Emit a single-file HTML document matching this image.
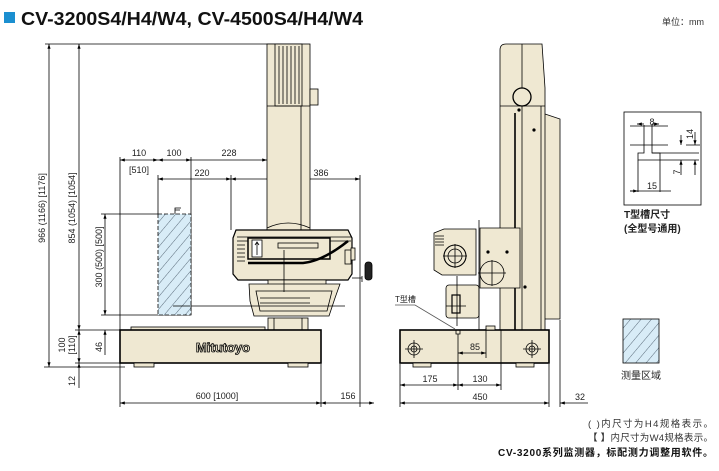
<!DOCTYPE html>
<html><head><meta charset="utf-8"><style>
html,body{margin:0;padding:0;background:#fff;}
svg{display:block;}
text{font-family:"Liberation Sans","Noto Sans CJK SC",sans-serif;}
</style></head><body>
<svg width="719" height="471" viewBox="0 0 719 471" xmlns="http://www.w3.org/2000/svg">
<defs>
<pattern id="h" patternUnits="userSpaceOnUse" width="8" height="8" patternTransform="rotate(40)">
<rect width="8" height="8" fill="#d8ecf7"/><line x1="0" y1="0" x2="0" y2="8" stroke="#3a4a5a" stroke-width="0.8"/>
</pattern>
<marker id="a" markerWidth="6" markerHeight="4" refX="6" refY="2" orient="auto-start-reverse"><path d="M0,0L6,2L0,4z" fill="#000"/></marker>
</defs>
<rect x="4" y="12" width="11" height="11" fill="#1b8fd0"/>
<text x="21" y="25" font-size="18" font-weight="bold" fill="#111" textLength="342" lengthAdjust="spacingAndGlyphs">CV-3200S4/H4/W4, CV-4500S4/H4/W4</text>
<text x="662" y="25" font-size="9" fill="#333">单位：mm</text>

<g stroke="#000" fill="none" stroke-width="0.8">
<line x1="45" y1="44" x2="275" y2="44"/>
<line x1="49" y1="44" x2="49" y2="367" marker-start="url(#a)" marker-end="url(#a)"/>
<line x1="79" y1="44" x2="79" y2="330" marker-start="url(#a)" marker-end="url(#a)"/>
<line x1="79" y1="330" x2="79" y2="363" marker-start="url(#a)" marker-end="url(#a)"/>
<line x1="79" y1="363" x2="79" y2="388" marker-start="url(#a)"/>
<line x1="44" y1="367" x2="125" y2="367"/>
<line x1="75" y1="363" x2="125" y2="363"/>
<line x1="75" y1="330" x2="122" y2="330"/>
<line x1="105" y1="214" x2="105" y2="315" marker-start="url(#a)" marker-end="url(#a)"/>
<line x1="105" y1="330" x2="105" y2="355" marker-start="url(#a)"/>
<line x1="101" y1="214" x2="158" y2="214"/>
<line x1="101" y1="315" x2="190" y2="315"/>
<line x1="120" y1="157" x2="120" y2="407"/>
<line x1="158" y1="175" x2="158" y2="214"/>
<line x1="191" y1="157" x2="191" y2="315"/>
<line x1="231" y1="175" x2="231" y2="230"/>
<line x1="360" y1="175" x2="360" y2="407"/>
<line x1="120" y1="160" x2="158" y2="160" marker-start="url(#a)" marker-end="url(#a)"/>
<line x1="158" y1="160" x2="191" y2="160" marker-start="url(#a)" marker-end="url(#a)"/>
<line x1="191" y1="160" x2="267" y2="160" marker-end="url(#a)"/>
<line x1="158" y1="179" x2="231" y2="179" marker-start="url(#a)" marker-end="url(#a)"/>
<line x1="231" y1="179" x2="360" y2="179" marker-start="url(#a)" marker-end="url(#a)"/>
<line x1="321" y1="364" x2="321" y2="407"/>
<line x1="120" y1="403" x2="321" y2="403" marker-start="url(#a)" marker-end="url(#a)"/>
<line x1="321" y1="403" x2="374" y2="403" marker-start="url(#a)" marker-end="url(#a)"/>
<rect x="158" y="214" width="33" height="101" fill="url(#h)" stroke-dasharray="4 2"/>
<path d="M175 214v-6h6M175 210h5"/>
<rect x="267" y="44" width="43" height="186" fill="#efe8d2"/>
<rect x="275" y="44" width="27" height="62" fill="#efe8d2"/>
<path d="M279 46v58M283 46v58M287 46v58M291 46v58M295 46v58M299 46v58"/>
<line x1="267" y1="106" x2="310" y2="106"/>
<rect x="310" y="89" width="8" height="16" fill="#efe8d2"/>
<line x1="301" y1="106" x2="301" y2="230"/>
<path d="M267 228q21-10 43 0" />
<path d="M236 230h112l4 8v36l-4 6h-110l-5-6v-36z" fill="#efe8d2" stroke-width="1.2"/>
<path d="M237 237h114M237 241h114M237 245h8M237 249h8M237 253h8M237 257h8M237 261h8" />
<rect x="248" y="238" width="82" height="21" fill="#efe8d2" stroke-width="1.5"/>
<rect x="252" y="240" width="10" height="17" fill="#fff"/>
<path d="M257 255v-12M255 245l2-3 2 3"/>
<rect x="278" y="243" width="40" height="5"/>
<path d="M248 263h55q20-2 45-22" stroke-width="2.5"/>
<rect x="345" y="250" width="6" height="14" fill="#efe8d2"/>
<rect x="351" y="248" width="4" height="12" fill="#efe8d2"/>
<path d="M352 278h10M362 276v6"/>
<rect x="365" y="262" width="7" height="18" rx="3" fill="#222"/>
<path d="M268 280h58v5h-58z" fill="#efe8d2"/>
<path d="M249 284h91l-5 14l-6 18h-75l-4-15z" fill="#efe8d2"/>
<path d="M256 291h76l-5 20h-67z"/>
<path d="M260 298h50M260 303h50"/>
<line x1="173" y1="306" x2="345" y2="306"/>
<line x1="284" y1="250" x2="284" y2="292"/>
<rect x="268" y="318" width="40" height="12" fill="#efe8d2"/>
<line x1="274" y1="318" x2="274" y2="330"/><line x1="302" y1="318" x2="302" y2="330"/>
<rect x="131" y="327" width="134" height="3" fill="#efe8d2"/>
<rect x="120" y="330" width="201" height="33" fill="#efe8d2" stroke-width="1.6"/>
<rect x="134" y="363" width="20" height="4" fill="#efe8d2"/>
<rect x="288" y="363" width="20" height="4" fill="#efe8d2"/>
</g>
<text x="223" y="352" font-size="13" font-weight="bold" fill="#efe8d2" stroke="#000" stroke-width="0.8" text-anchor="middle">Mitutoyo</text>

<g font-size="9" fill="#222" text-anchor="middle">
<text x="139" y="156">110</text>
<text x="174" y="156">100</text>
<text x="229" y="156">228</text>
<text x="139" y="173">[510]</text>
<text x="202" y="176">220</text>
<text x="321" y="176">386</text>
<text x="217" y="399">600 [1000]</text>
<text x="348" y="399">156</text>
<text transform="translate(45,208) rotate(-90)">966 (1166) [1176]</text>
<text transform="translate(75,208) rotate(-90)">854 (1054) [1054]</text>
<text transform="translate(102,257) rotate(-90)">300 (500) [500]</text>
<text transform="translate(102,347) rotate(-90)">46</text>
<text transform="translate(65,345) rotate(-90)">100</text>
<text transform="translate(75,345) rotate(-90)">[110]</text>
<text transform="translate(75,381) rotate(-90)">12</text>
</g>

<g stroke="#000" fill="none" stroke-width="0.8">
<path d="M542 113l18 6v200h-18z" fill="#efe8d2"/>
<path d="M500 50q0-6 6-6h36l3 44v242h-45z" fill="#efe8d2"/>
<line x1="522" y1="44" x2="522" y2="330"/>
<line x1="500" y1="106" x2="545" y2="106"/>
<circle cx="522" cy="97" r="9" fill="#efe8d2" stroke-width="1.3"/>
<line x1="515" y1="113" x2="515" y2="330" stroke-width="1.6"/>
<line x1="541" y1="106" x2="541" y2="330"/>
<circle cx="519" cy="110" r="1.2" fill="#000"/><circle cx="534" cy="130" r="1.2" fill="#000"/>
<circle cx="525" cy="287" r="1.2" fill="#000"/>
<path d="M480 228h40v60h-40z" fill="#efe8d2"/>
<path d="M434 233l10-4h32v46h-34l-8-5z" fill="#efe8d2"/>
<path d="M435 236h9M435 239h9M435 242h9M435 245h9"/>
<circle cx="455" cy="256" r="11" fill="#efe8d2" stroke-width="1.1"/>
<circle cx="455" cy="256" r="7"/>
<path d="M443 256h24M455 244v24"/>
<circle cx="492" cy="273" r="12" fill="#efe8d2"/>
<path d="M478 273h28M492 260v26"/>
<circle cx="488" cy="252" r="1.2" fill="#000"/><circle cx="507" cy="252" r="1.2" fill="#000"/>
<rect x="446" y="285" width="33" height="33" rx="3" fill="#efe8d2"/>
<rect x="452" y="295" width="8" height="18" fill="#efe8d2" stroke-width="1.2"/>
<path d="M446 306h20M457 276v50"/>
<line x1="479" y1="220" x2="479" y2="330"/>
<rect x="400" y="330" width="149" height="33" fill="#efe8d2" stroke-width="1.6"/>
<rect x="413" y="363" width="18" height="4" fill="#efe8d2"/>
<rect x="516" y="363" width="18" height="4" fill="#efe8d2"/>
<rect x="486" y="326" width="9" height="4" fill="#efe8d2"/>
<circle cx="414" cy="349" r="6"/><circle cx="414" cy="349" r="3"/><path d="M405 349h18M414 340v18"/>
<circle cx="532" cy="349" r="6"/><circle cx="532" cy="349" r="3"/><path d="M523 349h18M532 340v18"/>
<path d="M456 330v4h4v-4" />
<line x1="458" y1="334" x2="458" y2="390"/>
<line x1="486" y1="328" x2="486" y2="358"/>
<line x1="501" y1="330" x2="501" y2="390"/>
<line x1="458" y1="353" x2="486" y2="353" marker-start="url(#a)" marker-end="url(#a)"/>
<line x1="400" y1="364" x2="400" y2="407"/>
<line x1="549" y1="364" x2="549" y2="407"/>
<line x1="560" y1="320" x2="560" y2="407"/>
<line x1="400" y1="385" x2="458" y2="385" marker-start="url(#a)" marker-end="url(#a)"/>
<line x1="458" y1="385" x2="501" y2="385" marker-start="url(#a)" marker-end="url(#a)"/>
<line x1="400" y1="403" x2="549" y2="403" marker-start="url(#a)" marker-end="url(#a)"/>
<line x1="560" y1="403" x2="588" y2="403" marker-start="url(#a)"/>
<path d="M395 305h20l40 24" stroke="#555"/>
<rect x="624" y="112" width="77" height="93"/>
<path d="M630 126h38M630 145h38M644 145v-20M652 145v-20M644 145v8h-6v7h22v-7h-8v-8"/>
<path d="M638 160v32M660 160v32M630 191h41"/>
<path d="M652 153h47M660 160h39M686 145h14"/>
<line x1="644" y1="124" x2="637" y2="124" marker-end="url(#a)"/>
<line x1="652" y1="124" x2="659" y2="124" marker-end="url(#a)"/>
<line x1="638" y1="191" x2="630" y2="191" marker-start="url(#a)"/>
<line x1="681" y1="135" x2="681" y2="145" marker-end="url(#a)"/>
<line x1="681" y1="175" x2="681" y2="160" marker-end="url(#a)"/>
<line x1="695" y1="132" x2="695" y2="145" marker-end="url(#a)"/>
<line x1="695" y1="175" x2="695" y2="160" marker-end="url(#a)"/>
<rect x="623" y="319" width="36" height="44" fill="url(#h)"/>
</g>
<g font-size="9" fill="#222" text-anchor="middle">
<text x="475" y="350">85</text>
<text x="430" y="382">175</text>
<text x="480" y="382">130</text>
<text x="480" y="400">450</text>
<text x="580" y="400">32</text>
<text x="652" y="125">8</text>
<text x="652" y="189">15</text>
<text transform="translate(693,134) rotate(-90)">14</text>
<text transform="translate(680,172) rotate(-90)">7</text>
<text x="641" y="379" font-size="10">测量区域</text>
</g>
<text x="395" y="302" font-size="8" fill="#222">T型槽</text>
<text x="624" y="218" font-size="10" font-weight="bold" fill="#222">T型槽尺寸</text>
<text x="624" y="232" font-size="10" font-weight="bold" fill="#222">(全型号通用)</text>
<g font-size="9.5" fill="#333">
<text x="588" y="427" textLength="125">(    )内尺寸为H4规格表示。</text>
<text x="588" y="441" textLength="125"><tspan font-weight="bold">【  】</tspan>内尺寸为W4规格表示。</text>
<text x="498" y="456" font-weight="bold" font-size="10" textLength="215" fill="#111">CV-3200系列监测器，标配测力调整用软件。</text>
</g>
</svg>
</body></html>
